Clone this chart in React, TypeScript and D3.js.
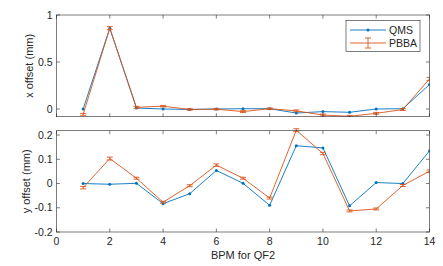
import React from 'react';
import * as d3 from 'd3';

// BPM index and offsets
const bpm = [1, 2, 3, 4, 5, 6, 7, 8, 9, 10, 11, 12, 13, 14];

const xQms = [0.0, 0.86, 0.01, 0.0, -0.005, 0.0, 0.003, 0.003, -0.043, -0.028, -0.035, 0.0, 0.003, 0.26];
const xPbba = [-0.057, 0.86, 0.018, 0.03, -0.005, -0.002, -0.028, 0.003, -0.02, -0.064, -0.078, -0.046, -0.006, 0.32];
const xPbbaErr = [0.01, 0.016, 0.01, 0.008, 0.008, 0.008, 0.01, 0.008, 0.01, 0.01, 0.01, 0.01, 0.01, 0.016];

const yQms = [0.0, -0.003, 0.001, -0.083, -0.042, 0.054, 0.001, -0.09, 0.156, 0.147, -0.092, 0.004, 0.0, 0.135];
const yPbba = [-0.017, 0.103, 0.022, -0.077, -0.009, 0.076, 0.022, -0.06, 0.22, 0.124, -0.113, -0.105, -0.008, 0.051];
const yPbbaErr = [0.005, 0.006, 0.004, 0.004, 0.004, 0.005, 0.004, 0.004, 0.006, 0.005, 0.004, 0.004, 0.004, 0.005];

const xTicks = [0, 2, 4, 6, 8, 10, 12, 14];
const topTicks = [0, 0.5, 1];
const bottomTicks = [-0.2, -0.1, 0, 0.1, 0.2];

const width = 443;
const height = 266;
const left = 56.5;
const right = 429.5;
const axisColor = '#262626';
const blue = '#0072BD';
const orange = '#D95319';
const font = '"Liberation Sans", Arial, sans-serif';

const xScale = d3.scaleLinear().domain([0, 14]).range([left, right]);

type PanelProps = {
  top: number;
  bottom: number;
  domain: [number, number];
  ticks: number[];
  qms: number[];
  pbba: number[];
  err: number[];
  label: string;
  labelX: number;
  showX: boolean;
};

const Panel = (props: PanelProps) => {
  const { top, bottom, domain, ticks, qms, pbba, err, label, labelX, showX } = props;
  const yScale = d3.scaleLinear().domain(domain).range([bottom, top]);
  const line = d3.line<number>().x((d, i) => xScale(bpm[i])).y(d => yScale(d));
  const clipId = `clip-${Math.round(top)}`;

  return (
    <g>
      <defs>
        <clipPath id={clipId}>
          <rect x={left} y={top - 3} width={right - left} height={bottom - top + 3} />
        </clipPath>
      </defs>
      <rect x={left} y={top} width={right - left} height={bottom - top} fill="white" />
      <g clipPath={`url(#${clipId})`}>
        <path d={line(qms) || ''} fill="none" stroke={blue} strokeWidth={0.9} />
        {qms.map((v, i) => (
          <circle key={'q' + i} cx={xScale(bpm[i])} cy={yScale(v)} r={1.5} fill={blue} />
        ))}
        <path d={line(pbba) || ''} fill="none" stroke={orange} strokeWidth={0.9} />
        {pbba.map((v, i) => {
          const cx = xScale(bpm[i]);
          const y1 = yScale(v - err[i]);
          const y2 = yScale(v + err[i]);
          return (
            <g key={'p' + i} stroke={orange} strokeWidth={0.9}>
              <line x1={cx} x2={cx} y1={y1} y2={y2} />
              <line x1={cx - 3} x2={cx + 3} y1={y1} y2={y1} />
              <line x1={cx - 3} x2={cx + 3} y1={y2} y2={y2} />
            </g>
          );
        })}
      </g>
      {/* box */}
      <rect x={left} y={top} width={right - left} height={bottom - top} fill="none" stroke={axisColor} strokeWidth={0.6} />
      {xTicks.map(t => (
        <g key={'xt' + t} stroke={axisColor} strokeWidth={0.6}>
          <line x1={xScale(t)} x2={xScale(t)} y1={bottom} y2={bottom - 3.5} />
          <line x1={xScale(t)} x2={xScale(t)} y1={top} y2={top + 3.5} />
        </g>
      ))}
      {ticks.map(t => (
        <g key={'yt' + t}>
          <line x1={left} x2={left + 3.5} y1={yScale(t)} y2={yScale(t)} stroke={axisColor} strokeWidth={0.6} />
          <line x1={right} x2={right - 3.5} y1={yScale(t)} y2={yScale(t)} stroke={axisColor} strokeWidth={0.6} />
          <text x={left - 4} y={yScale(t)} dy="0.35em" textAnchor="end" fontSize={10.5} fill={axisColor} fontFamily={font}>
            {d3.format('')(t).replace('−', '-')}
          </text>
        </g>
      ))}
      {showX &&
        xTicks.map(t => (
          <text key={'xl' + t} x={xScale(t)} y={bottom + 13} textAnchor="middle" fontSize={10.5} fill={axisColor} fontFamily={font}>
            {t}
          </text>
        ))}
      <text
        transform={`translate(${labelX}, ${(top + bottom) / 2}) rotate(-90)`}
        textAnchor="middle"
        fontSize={11}
        fill={axisColor}
        fontFamily={font}
      >
        {label}
      </text>
    </g>
  );
};

const Legend = () => {
  const lx = 346;
  const ly = 20.5;
  return (
    <g fontFamily={font} fontSize={10.5} fill={axisColor}>
      <rect x={lx} y={ly} width={74} height={31} fill="white" stroke={axisColor} strokeWidth={0.6} />
      <line x1={lx + 4} x2={lx + 40} y1={ly + 9.5} y2={ly + 9.5} stroke={blue} strokeWidth={0.9} />
      <circle cx={lx + 22} cy={ly + 9.5} r={1.5} fill={blue} />
      <text x={lx + 43} y={ly + 9.5} dy="0.35em">QMS</text>
      <g stroke={orange} strokeWidth={0.9}>
        <line x1={lx + 4} x2={lx + 40} y1={ly + 22.5} y2={ly + 22.5} />
        <line x1={lx + 22} x2={lx + 22} y1={ly + 17.5} y2={ly + 27.5} />
        <line x1={lx + 19} x2={lx + 25} y1={ly + 17.5} y2={ly + 17.5} />
        <line x1={lx + 19} x2={lx + 25} y1={ly + 27.5} y2={ly + 27.5} />
      </g>
      <text x={lx + 43} y={ly + 22.5} dy="0.35em">PBBA</text>
    </g>
  );
};

const App = () => {
  return (
    <svg width={width} height={height} style={{ position: 'absolute', left: 0, top: 0, background: 'white' }}>
      <Panel
        top={15}
        bottom={116.7}
        domain={[-0.082, 1]}
        ticks={topTicks}
        qms={xQms}
        pbba={xPbba}
        err={xPbbaErr}
        label="x offset (mm)"
        labelX={33}
        showX={false}
      />
      <Panel
        top={130.7}
        bottom={232}
        domain={[-0.2, 0.218]}
        ticks={bottomTicks}
        qms={yQms}
        pbba={yPbba}
        err={yPbbaErr}
        label="y offset (mm)"
        labelX={30}
        showX={true}
      />
      <text x={(left + right) / 2} y={259} textAnchor="middle" fontSize={11} fill={axisColor} fontFamily={font}>
        BPM for QF2
      </text>
      <Legend />
    </svg>
  );
};

export default App;
